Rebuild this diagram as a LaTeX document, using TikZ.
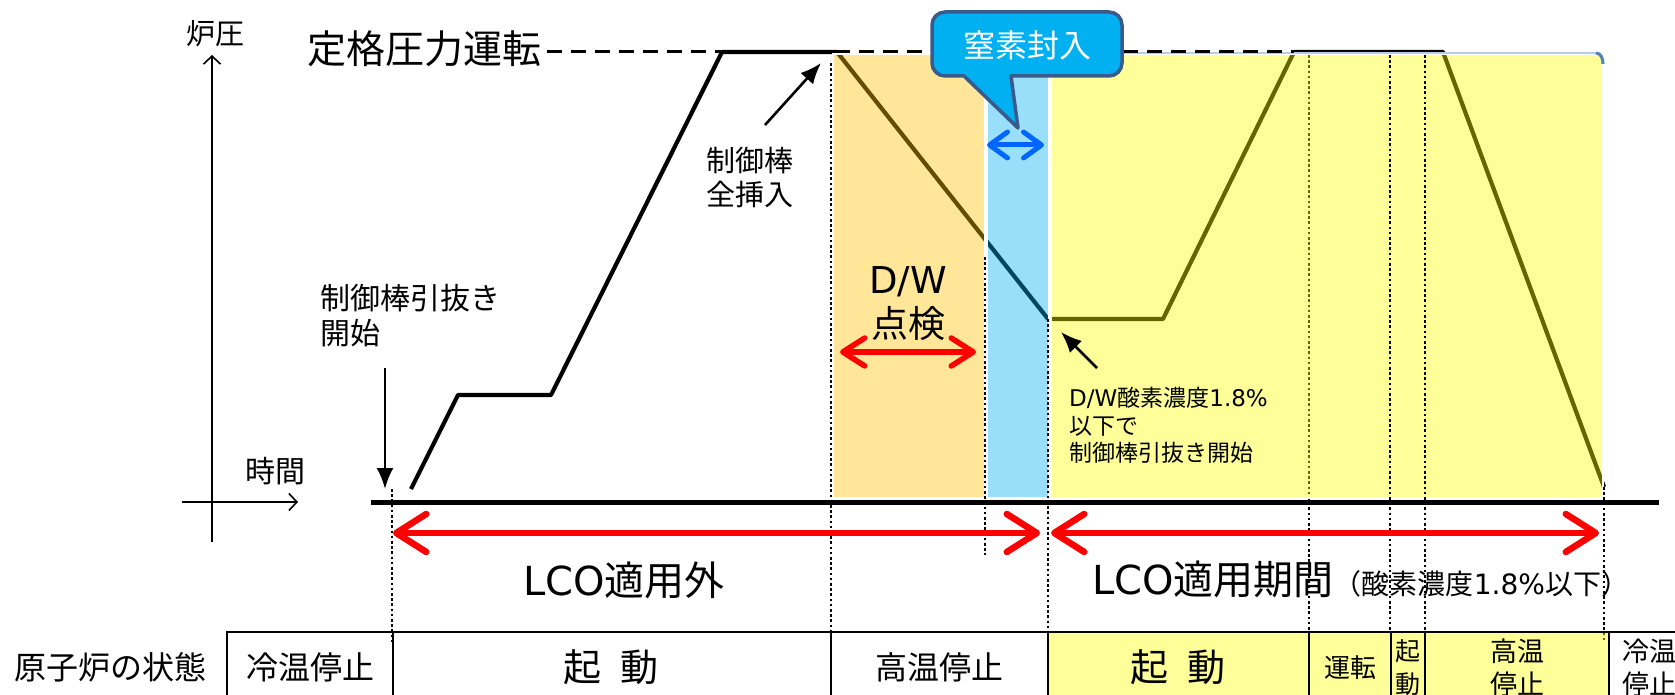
\documentclass[tikz,border=0pt]{standalone}
\usepackage{fontspec}
\setmainfont{Noto Sans CJK JP}
\newfontfamily\lat{DejaVu Sans}
\usetikzlibrary{arrows.meta}
\definecolor{orng}{HTML}{FFC000}
\definecolor{cyanb}{HTML}{00B0F0}
\definecolor{yel}{HTML}{FFFF00}
\definecolor{callborder}{HTML}{3B5A8C}
\definecolor{dblue}{HTML}{0066FF}
\definecolor{edgeblue}{HTML}{4F81BD}
\definecolor{lightedge}{HTML}{B8CCE4}
\newcommand{\fsz}[2]{\fontsize{#1}{#2}\selectfont}
\begin{document}
\begin{tikzpicture}[x=1pt,y=-1pt,
  curve/.style={line width=4.2pt, line join=round},
  dotv/.style={line width=2.8pt, dash pattern=on 2.6pt off 2.6pt},
  region/.style={fill opacity=0.4, draw=white, line width=1.5pt},
  cell/.style={draw=black, line width=1.8pt},
  redarr/.style={draw=red, line width=6.5pt, {Straight Barb[length=30pt,width=38pt,round]}-{Straight Barb[length=30pt,width=38pt,round]}},
  redsmall/.style={draw=red, line width=5.5pt, {Straight Barb[length=22pt,width=28pt,round]}-{Straight Barb[length=22pt,width=28pt,round]}},
  bluearr/.style={draw=dblue, line width=5pt, {Straight Barb[length=18pt,width=26pt,round]}-{Straight Barb[length=18pt,width=26pt,round]}},
  blk/.style={draw=black, line width=2.6pt, -{Latex[length=21pt,width=17pt]}},
  axis/.style={draw=black, line width=1.6pt, -{Straight Barb[length=8pt,width=17pt]}},
  txt/.style={inner sep=0pt, align=center, text=black},
]
\useasboundingbox (0,0) rectangle (1675,695);

% pressure curve
\coordinate (c0) at (411,489);
\coordinate (c1) at (458,395);
\coordinate (c2) at (551,395);
\coordinate (c3) at (722,52);
\coordinate (c4) at (837,52);
\coordinate (c5) at (1048,319);
\coordinate (c6) at (1163,319);
\coordinate (c7) at (1294,52);
\coordinate (c8) at (1443,52);
\coordinate (c9) at (1604,487);
\draw[curve] (c0) -- (c1) -- (c2) -- (c3) -- (c4) -- (c5) -- (c6) -- (c7) -- (c8) -- (c9);

% dotted line under the yellow band
\draw[dotv] (1309,55) -- (1309,632);

% coloured bands (semi-transparent)
\path[fill=orng, region] (833,54) rectangle (985,498);
\path[fill=cyanb, region] (987,54) rectangle (1049,498);
\path[fill=yel, region] (1051,54) rectangle (1603,498);

% top edge of the yellow band and its corner
\draw[lightedge, line width=1.5pt] (1051,53) -- (1597,53);
\draw[edgeblue, line width=3pt] (1596,53) to[out=0, in=90] (1603,64);

% rated pressure dashed line
\draw[line width=3pt, dash pattern=on 15pt off 9pt] (547,52) -- (c7);

% vertical dotted lines
\draw[dotv] (392,489) -- (392,643);
\draw[dotv] (831,63) -- (831,632);
\draw[dotv] (985,257) -- (985,555);
\draw[dotv] (1048,319) -- (1048,632);
\draw[dotv] (1390,55) -- (1390,632);
\draw[dotv] (1425,55) -- (1425,632);
\draw[dotv] (1604,487) -- (1604,643);

% axes
\coordinate (yb) at (212,542);
\coordinate (yt) at (212,55);
\draw[axis] (yb) -- (yt);
\coordinate (xl) at (182,502);
\coordinate (xr) at (298,502);
\draw[axis] (xl) -- (xr);
\coordinate (bl0) at (371,502);
\coordinate (bl1) at (1659,502);
\draw[line width=5pt] (bl0) -- (bl1);

% callout
\path[fill=cyanb, draw=callborder, line width=3.5pt, line join=round]
  (964,76) [rounded corners=13pt] -- (932,76) -- (932,12) -- (1122,12) -- (1122,76) [sharp corners] -- (1011,76) -- (1018,128) -- cycle;
\node[txt, text=white, font=\fsz{32}{36}] (n2) at (1027,45) {窒素封入};
\coordinate (ba0) at (987,145);
\coordinate (ba1) at (1044,145);
\draw[bluearr] (ba0) -- (ba1);

% labels
\node[txt, font=\fsz{29}{34}] (lp) at (215,34) {炉圧};
\node[txt, font=\fsz{39}{44}] (rated) at (424,49) {定格圧力運転};
\node[txt, font=\fsz{30}{36}] (time) at (275,471) {時間};
\node[txt, font=\fsz{30}{36}, anchor=north west, align=left] (pull) at (320,284) {制御棒引抜き\\[-1pt]開始};
\node[txt, font=\fsz{29}{34}] (ins) at (750,177) {制御棒\\全挿入};
\node[txt, font=\fsz{37}{44}] (dw) at (908,304) {{\lat D/W}\\点検};
\node[txt, font=\fsz{23}{27.5}, anchor=north west, align=left] (o2) at (1069,387) {{\lat D/W}酸素濃度{\lat 1.8\%}\\以下で\\制御棒引抜き開始};

% black pointer arrows
\coordinate (p0) at (385,368);
\coordinate (p1) at (385,489);
\draw[blk] (p0) -- (p1);
\coordinate (q0) at (765,125);
\coordinate (q1) at (821,63);
\draw[blk] (q0) -- (q1);
\coordinate (r0) at (1097,368);
\coordinate (r1) at (1061,332);
\draw[blk] (r0) -- (r1);

% red double arrows
\coordinate (d0) at (840,352);
\coordinate (d1) at (976,352);
\draw[redsmall] (d0) -- (d1);
\coordinate (l0) at (393,533);
\coordinate (l1) at (1040,533);
\draw[redarr] (l0) -- (l1);
\coordinate (m0) at (1051,533);
\coordinate (m1) at (1599,533);
\draw[redarr] (m0) -- (m1);

\node[txt, font=\fsz{40}{46}] (lcoout) at (624,580) {{\lat LCO}適用外};
\node[txt, anchor=base west] (lcoin) at (1092,594) {\fsz{40}{46}{\lat LCO}適用期間\fsz{28}{32}（酸素濃度{\lat 1.8\%}以下）};

% status table
\path[fill=yel, fill opacity=0.4] (1048,632) rectangle (1609,700);
\draw[cell] (227,700) -- (227,632) -- (1675,632);
\foreach \xx in {393,831,1048,1309,1391,1425,1609} { \draw[cell] (\xx,632) -- (\xx,700); }
\node[txt, font=\fsz{32}{36}] (rowlab) at (110,667) {原子炉の状態};
\node[txt, font=\fsz{32}{36}] (s1) at (310,667) {冷温停止};
\node[txt, font=\fsz{38}{42}] (s2) at (611,667) {起\hspace{0.5em}動};
\node[txt, font=\fsz{32}{36}] (s3) at (939,667) {高温停止};
\node[txt, font=\fsz{38}{42}] (s4) at (1178,667) {起\hspace{0.5em}動};
\node[txt, font=\fsz{26}{30}] (s5) at (1350,668) {運転};
\node[txt, font=\fsz{25}{33}] (s6) at (1408,668) {起\\動};
\node[txt, font=\fsz{27}{33}] (s7) at (1517,668) {高温\\停止};
\node[txt, font=\fsz{27}{33}] (s8) at (1649,668) {冷温\\停止};
\end{tikzpicture}
\end{document}
